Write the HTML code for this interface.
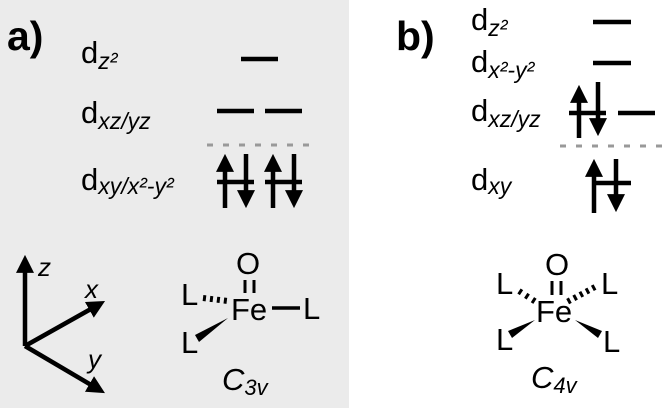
<!DOCTYPE html>
<html><head><style>
html,body{margin:0;padding:0;background:#fff}
svg{display:block}
text{font-family:"Liberation Sans",sans-serif;fill:#000}
.d{font-size:31px}
.s{font-size:23px;font-style:italic}
.h{font-size:31px}
</style></head><body>
<svg width="664" height="408" viewBox="0 0 664 408" xmlns="http://www.w3.org/2000/svg">
<defs>
<marker id="ah" markerWidth="4" markerHeight="4" refX="2.2" refY="2" orient="auto" markerUnits="strokeWidth">
<path d="M0,0 L4,2 L0,4 z" fill="#000"/></marker>
</defs>
<rect x="0" y="0" width="349" height="408" fill="#ebebeb"/>
<g stroke="#000" stroke-width="4.5" fill="none">
<line x1="241" y1="59" x2="278" y2="59"/>
<line x1="217" y1="111" x2="254" y2="111"/>
<line x1="265" y1="111" x2="302" y2="111"/>
<line x1="217" y1="182" x2="254" y2="182"/>
<line x1="265" y1="182" x2="302" y2="182"/>
<line x1="225" y1="208" x2="225" y2="162" marker-end="url(#ah)"/>
<line x1="246" y1="154" x2="246" y2="200" marker-end="url(#ah)"/>
<line x1="273" y1="208" x2="273" y2="162" marker-end="url(#ah)"/>
<line x1="294" y1="154" x2="294" y2="200" marker-end="url(#ah)"/>
<line x1="593" y1="22" x2="631" y2="22"/>
<line x1="593" y1="63" x2="631" y2="63"/>
<line x1="569" y1="113" x2="606" y2="113"/>
<line x1="618" y1="113" x2="655" y2="113"/>
<line x1="579" y1="138" x2="579" y2="93" marker-end="url(#ah)"/>
<line x1="598" y1="82" x2="598" y2="128" marker-end="url(#ah)"/>
<line x1="593" y1="183" x2="631" y2="183"/>
<line x1="594" y1="213" x2="594" y2="167" marker-end="url(#ah)"/>
<line x1="616" y1="159" x2="616" y2="204" marker-end="url(#ah)"/>
<line x1="25" y1="346" x2="25" y2="263" marker-end="url(#ah)"/>
<line x1="25" y1="346" x2="98" y2="305" marker-end="url(#ah)"/>
<line x1="25" y1="346" x2="98" y2="389" marker-end="url(#ah)"/>
</g>
<g stroke="#999" stroke-width="3" stroke-dasharray="6,10">
<line x1="207" y1="145" x2="312" y2="145"/>
<line x1="560" y1="146" x2="664" y2="146"/>
</g>
<text x="7" y="50" style="font-size:41px;font-weight:bold">a)</text>
<text x="81" y="63" class="d">d<tspan class="s" dy="6">z²</tspan></text>
<text x="81" y="123" class="d">d<tspan class="s" dy="6">xz/yz</tspan></text>
<text x="81" y="190" class="d">d<tspan class="s" dy="4">xy/x²-y²</tspan></text>
<text x="38" y="276" class="s" style="font-size:26px">z</text>
<text x="85" y="298" class="s" style="font-size:26px">x</text>
<text x="88" y="368" class="s" style="font-size:26px">y</text>
<text x="236" y="274" class="h">O</text>
<g stroke="#000" stroke-width="3">
<line x1="245" y1="280" x2="245" y2="293"/><line x1="254" y1="280" x2="254" y2="293"/>
<line x1="272" y1="308" x2="300" y2="308" stroke-width="3.5"/>
<line x1="203" y1="298" x2="228" y2="301" stroke-width="6" stroke-dasharray="3,4"/>
</g>
<text x="231" y="320" class="h">Fe</text>
<text x="181" y="305" class="h">L</text>
<text x="303" y="319" class="h">L</text>
<text x="181" y="353" class="h">L</text>
<polygon points="228,318 195,335 199,342" fill="#000"/>
<text x="222" y="390" class="s" style="font-size:31px">C<tspan dy="5" style="font-size:22px">3v</tspan></text>
<text x="396" y="50" style="font-size:41px;font-weight:bold">b)</text>
<text x="471" y="30" class="d">d<tspan class="s" dy="6">z²</tspan></text>
<text x="471" y="72" class="d">d<tspan class="s" dy="6">x²-y²</tspan></text>
<text x="471" y="121" class="d">d<tspan class="s" dy="6">xz/yz</tspan></text>
<text x="471" y="190" class="d">d<tspan class="s" dy="4">xy</tspan></text>
<text x="545" y="275" class="h">O</text>
<g stroke="#000" stroke-width="3">
<line x1="552" y1="281" x2="552" y2="295"/><line x1="561" y1="281" x2="561" y2="295"/>
<line x1="519" y1="291" x2="536" y2="302" stroke-width="6" stroke-dasharray="3,5"/>
<line x1="595" y1="287" x2="565" y2="303" stroke-width="6" stroke-dasharray="3,4"/>
</g>
<text x="536" y="322" class="h">Fe</text>
<text x="496" y="294" class="h">L</text>
<text x="601" y="294" class="h">L</text>
<text x="496" y="350" class="h">L</text>
<text x="603" y="352" class="h">L</text>
<polygon points="535,320 508,331 512,338" fill="#000"/>
<polygon points="575,320 602,331 598,338" fill="#000"/>
<text x="531" y="388" class="s" style="font-size:31px">C<tspan dy="5" style="font-size:22px">4v</tspan></text>
</svg>
</body></html>
